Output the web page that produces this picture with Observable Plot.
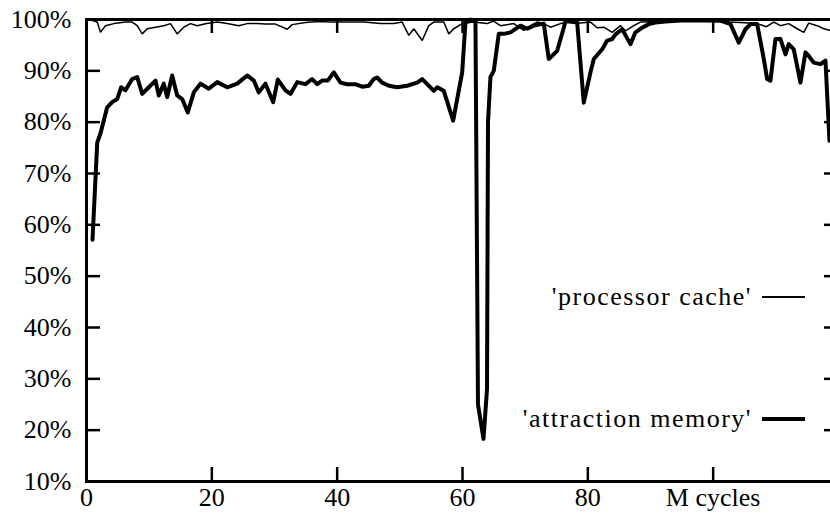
<!DOCTYPE html>
<html>
<head>
<meta charset="utf-8">
<script src="https://cdn.jsdelivr.net/npm/d3@7"></script>
<script src="https://cdn.jsdelivr.net/npm/@observablehq/plot@0.6"></script>
</head>
<body style="margin:0;padding:0;background:#fff;overflow:hidden;">
<div id="wrap" style="position:relative;width:830px;height:520px;overflow:hidden;background:#fff;"></div>
<script>
// M cycles (x) and hit rate in % (y) for each series
const attractionCycles = [0.96,1.71,2.23,3.30,4.10,4.90,5.54,6.22,7.29,8.09,8.89,9.94,11.01,11.54,12.33,12.88,13.67,14.47,15.27,16.16,17.12,18.19,19.51,20.86,22.45,24.05,25.64,26.70,27.49,28.56,29.79,30.53,31.75,32.55,33.62,34.95,36.0,36.8,37.6,38.5,39.46,40.53,41.6,42.9,43.99,45.05,45.84,46.38,47.18,48.24,49.58,51.17,52.77,53.57,54.37,55.42,55.96,57.01,58.51,59.95,60.47,61.27,62.07,62.47,63.35,63.91,64.07,64.46,64.99,65.79,66.59,67.66,69.25,70.32,71.38,72.97,73.77,75.11,76.16,76.43,78.30,79.35,80.42,80.95,82.29,83.09,83.89,84.41,85.48,86.80,87.60,88.67,89.72,90.79,92.39,94.78,96.91,99.57,101.17,102.76,104.09,105.15,105.95,107.02,108.08,108.62,109.14,109.94,110.74,111.54,112.06,112.86,113.93,114.73,115.25,116.05,117.12,117.92,118.56];
const attractionHit = [57.1,76.0,77.8,82.9,83.9,84.5,86.8,86.2,88.4,88.8,85.5,86.8,88.1,85.2,87.5,84.9,89.1,85.2,84.5,81.9,85.8,87.5,86.5,87.8,86.8,87.5,89.1,88.1,85.8,87.5,83.9,88.3,86.2,85.5,87.8,87.4,88.4,87.4,88.1,88.1,89.7,87.7,87.4,87.4,86.9,87.1,88.4,88.7,87.7,87.1,86.8,87.1,87.7,88.4,87.4,86.1,86.8,86.1,80.3,89.7,99.4,100,99.5,25,18.3,28,80,88.8,90.0,97.2,97.2,97.5,98.8,98.2,98.8,99.2,92.3,93.9,98.4,99.7,99.4,83.8,89.7,92.3,94.2,95.9,96.2,97.1,98.1,95.2,97.5,98.4,99.1,99.4,99.6,99.8,99.8,99.8,99.8,99.1,95.5,98.1,99.1,99.1,92.3,88.4,88.1,96.2,96.2,93.2,95.2,94.2,87.7,93.6,92.9,91.6,91.3,92.0,76.4];

const cacheCycles = [0.96,1.71,2.23,3.03,4.36,6.22,7.29,8.09,8.89,9.69,11.01,12.33,13.40,14.47,15.53,16.59,17.66,19.15,20.86,22.45,24.3,25.64,27.13,28.56,30.16,32.03,32.82,34.95,37.0,38.93,41.33,44.25,46.91,49.03,50.37,51.43,52.23,53.57,54.62,55.42,57.01,57.81,58.61,59.95,61.75,63.94,64.94,66.06,68.18,69.78,70.85,71.91,72.97,74.04,75.63,77.23,78.82,80.42,81.49,82.54,83.89,85.21,86.01,87.33,88.40,91.59,96.38,100.05,104.36,107.02,108.5,109.68,110.74,112.06,113.40,114.46,115.25,116.59,117.65,118.56];
const cacheHit = [99.8,99.5,97.5,98.8,99.2,99.5,99.5,98.8,97.2,98.2,98.5,98.8,99.2,97.2,98.5,99.2,98.8,99.2,99.5,99.2,98.8,99.2,99.2,99.1,99.1,98.1,99.0,99.4,99.6,99.5,99.5,99.5,99.2,99.2,99.5,96.9,98.2,95.9,98.8,99.5,99.5,97.2,98.2,99.2,99.5,99.2,99.7,98.8,99.2,97.9,98.8,99.5,99.2,98.5,99.2,99.5,99.3,99.5,98.4,98.5,97.5,98.8,97.8,98.8,99.5,99.6,99.7,99.6,99.4,99.2,98.6,99.5,98.8,99.2,98.2,97.5,99.3,98.8,98.2,97.9];

const xTicks = [0, 20, 40, 60, 80, 100];
const xTickLabels = ["0", "20", "40", "60", "80", "M cycles"];
const yTicks = [10, 20, 30, 40, 50, 60, 70, 80, 90, 100];
const seriesNames = ["'processor cache'", "'attraction memory'"];

const attraction = attractionCycles.map((c, i) => ({c, v: attractionHit[i]}));
const cache = cacheCycles.map((c, i) => ({c, v: cacheHit[i]}));

const W = 850, H = 520, ML = 86, MR = 12, MT = 19, MB = 39;
const frameW = W - ML - MR, frameH = H - MT - MB;
const tickLen = 14;
const wrap = document.getElementById("wrap");

try {
  const chart = Plot.plot({
    width: W, height: H,
    marginLeft: ML, marginRight: MR, marginTop: MT, marginBottom: MB,
    style: {fontFamily: "Liberation Serif", fontSize: "26px", maxWidth: "none"},
    x: {domain: [0, 120], axis: null},
    y: {domain: [10, 100], axis: null},
    marks: [
      Plot.axisY({anchor: "left", ticks: yTicks, tickSize: 0, tickPadding: 15, tickFormat: d => d + "%", label: null}),
      Plot.axisX({anchor: "bottom", ticks: xTicks, tickSize: 0, tickPadding: 6, tickFormat: d => xTickLabels[xTicks.indexOf(d)], label: null}),
      Plot.tickY(yTicks, {y: d => d, insetRight: frameW - tickLen, stroke: "black", strokeWidth: 2.5}),
      Plot.tickY(yTicks, {y: d => d, insetLeft: frameW - tickLen, stroke: "black", strokeWidth: 2.5}),
      Plot.tickX(xTicks, {x: d => d, insetTop: frameH - tickLen, stroke: "black", strokeWidth: 2.5}),
      Plot.tickX(xTicks, {x: d => d, insetBottom: frameH - tickLen, stroke: "black", strokeWidth: 2.5}),
      Plot.line(cache, {x: "c", y: "v", stroke: "black", strokeWidth: 1.5, strokeLinejoin: "miter"}),
      Plot.line(attraction, {x: "c", y: "v", stroke: "black", strokeWidth: 4}),
      Plot.frame({stroke: "black", strokeWidth: 3})
    ]
  });
  wrap.appendChild(chart);
  const t = chart.querySelector("text");
  if (t) getComputedStyle(t).fontFamily;
} catch (e) {
  const err = document.createElement("pre");
  err.textContent = e.message;
  wrap.appendChild(err);
}
document.fonts.check("26px 'Liberation Serif'");

// legend overlay inside the plot area
const legendRows = [
  {name: seriesNames[0], width: 1.5, top: 282},
  {name: seriesNames[1], width: 4, top: 404}
];
for (const r of legendRows) {
  const row = document.createElement("div");
  row.style.cssText = "position:absolute;right:25px;top:" + r.top + "px;display:flex;align-items:center;" +
    "font-family:'Liberation Serif' !important;font-size:26px;color:#000;letter-spacing:1.5px;line-height:30px;white-space:nowrap";
  const t = document.createElement("span");
  t.textContent = r.name;
  const s = document.createElement("span");
  s.style.cssText = "display:inline-block;width:43px;margin-left:10px;height:" + r.width + "px;background:#000";
  row.appendChild(t);
  row.appendChild(s);
  wrap.appendChild(row);
}
</script>
</body>
</html>
